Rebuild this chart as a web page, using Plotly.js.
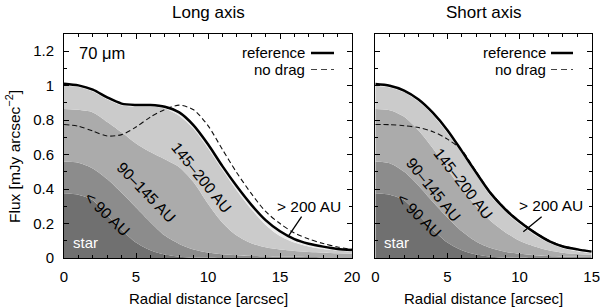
<!DOCTYPE html>
<html>
<head>
<meta charset="utf-8">
<script src="https://cdn.plot.ly/plotly-3.0.1.min.js"></script>
<style>html,body{margin:0;padding:0;background:#fff}#plot{width:600px;height:308px}</style>
</head>
<body>
<div id="plot"></div>
<script>
// ---------- Long axis (cumulative band tops, mJy arcsec^-2) ----------
var xLong = [0,1,2,3,4,5,6,7,8,9,10,11,12,13,14,15,16,17,18,19,20];
var starLong   = [0.376,0.367,0.335,0.25,0.163,0.09,0.045,0.02,0.008,0.003,0.001,0,0,0,0,0,0,0,0,0,0];
var lt90Long   = [0.56,0.553,0.52,0.458,0.378,0.293,0.208,0.13,0.082,0.05,0.032,0.022,0.016,0.012,0.01,0.008,0.007,0.006,0.005,0.005,0.004];
var b145Long   = [0.865,0.86,0.845,0.79,0.73,0.665,0.615,0.573,0.527,0.44,0.315,0.205,0.13,0.085,0.062,0.049,0.041,0.035,0.031,0.028,0.025];
var b200Long   = [1.0,0.993,0.967,0.922,0.887,0.879,0.879,0.868,0.826,0.75,0.637,0.512,0.392,0.284,0.192,0.128,0.09,0.067,0.052,0.043,0.037];
var refLong    = [1.012,1.002,0.977,0.932,0.896,0.888,0.888,0.878,0.845,0.77,0.66,0.533,0.416,0.31,0.22,0.155,0.11,0.083,0.066,0.053,0.047];
var noDragLong = [0.775,0.765,0.737,0.708,0.716,0.76,0.818,0.862,0.887,0.86,0.768,0.63,0.495,0.375,0.27,0.2,0.145,0.11,0.084,0.064,0.05];

// ---------- Short axis ----------
var xShort = [0,1,2,3,4,5,6,7,8,9,10,11,12,13,14,15];
var starShort   = [0.376,0.367,0.335,0.25,0.163,0.09,0.045,0.02,0.008,0.003,0.001,0,0,0,0,0];
var lt90Short   = [0.56,0.55,0.5,0.42,0.325,0.235,0.155,0.095,0.058,0.036,0.024,0.016,0.012,0.009,0.007,0.006];
var b145Short   = [0.865,0.858,0.82,0.74,0.635,0.515,0.4,0.3,0.215,0.15,0.1,0.068,0.045,0.031,0.023,0.018];
var b200Short   = [1.0,0.99,0.962,0.908,0.828,0.725,0.607,0.482,0.36,0.27,0.197,0.137,0.09,0.057,0.039,0.027];
var refShort    = [1.01,1.0,0.972,0.92,0.842,0.742,0.62,0.495,0.375,0.283,0.21,0.15,0.1,0.067,0.05,0.037];
var noDragShort = [0.775,0.774,0.768,0.757,0.733,0.69,0.625,0.5,0.38,0.288,0.214,0.154,0.104,0.07,0.052,0.039];

var bandColors = ['#707070','#8c8c8c','#ababab','#cbcbcb','#ececec'];
var FONT = 'Liberation Sans, Arial, Helvetica, sans-serif';

function panel(xs, bands, ref, nodrag, xa, ya) {
  var tr = [];
  bands.forEach(function (b, i) {
    tr.push({x: xs, y: b, xaxis: xa, yaxis: ya, type: 'scatter', mode: 'lines',
      line: {width: 0, shape: 'spline', smoothing: 0.8}, fill: i === 0 ? 'tozeroy' : 'tonexty',
      fillcolor: bandColors[i], hoverinfo: 'skip', showlegend: false});
  });
  tr.push({x: xs, y: ref, xaxis: xa, yaxis: ya, type: 'scatter', mode: 'lines', fill: 'tonexty',
    fillcolor: bandColors[4], line: {width: 0, shape: 'spline', smoothing: 0.8}, showlegend: false});
  tr.push({x: xs, y: nodrag, xaxis: xa, yaxis: ya, type: 'scatter', mode: 'lines',
    line: {color: '#111', width: 1.1, dash: '5px,3px', shape: 'spline', smoothing: 0.8}, showlegend: false});
  tr.push({x: xs, y: ref, xaxis: xa, yaxis: ya, type: 'scatter', mode: 'lines',
    line: {color: '#000', width: 2.5, shape: 'spline', smoothing: 0.8}, showlegend: false});
  return tr;
}

var data = panel(xLong, [starLong, lt90Long, b145Long, b200Long], refLong, noDragLong, 'x', 'y')
  .concat(panel(xShort, [starShort, lt90Short, b145Short, b200Short], refShort, noDragShort, 'x2', 'y2'));

function xaxisCfg(dom, rng, anchor) {
  return {domain: dom, range: rng, anchor: anchor, dtick: 5, tick0: 0, ticks: 'inside', ticklen: 5,
    tickcolor: '#000', minor: {dtick: 1, ticklen: 3, ticks: 'inside', tickcolor: '#000'},
    mirror: 'ticks', showline: true, linecolor: '#000', linewidth: 1, showgrid: false, zeroline: false,
    tickfont: {family: FONT, size: 15, color: '#000'}, ticklabelstandoff: 5, ticklabeloverflow: 'allow',
    automargin: false, layer: 'above traces'};
}
function yaxisCfg(dom, anchor, labels) {
  return {domain: dom, range: [0, 1.3], anchor: anchor, dtick: 0.2, tick0: 0, ticks: 'inside', ticklen: 5,
    tickcolor: '#000', minor: {dtick: 0.1, ticklen: 3, ticks: 'inside', tickcolor: '#000'},
    mirror: 'ticks', showline: true, linecolor: '#000', linewidth: 1, showgrid: false, zeroline: false,
    showticklabels: labels, tickfont: {family: FONT, size: 15, color: '#000'}, ticklabelstandoff: 6,
    ticklabeloverflow: 'allow', automargin: false, layer: 'above traces'};
}

var yDom = [0.1623, 0.8896];
function txt(t, x, y, xref, yref, size, opts) {
  var a = {text: t, x: x, y: y, xref: xref, yref: yref, showarrow: false,
    font: {family: FONT, size: size, color: '#000'}, xanchor: 'center', yanchor: 'middle'};
  for (var k in (opts || {})) a[k] = opts[k];
  return a;
}

var annotations = [
  txt('Long axis', 0.5, 0.959, 'x domain', 'paper', 17),
  txt('Short axis', 0.5, 0.959, 'x2 domain', 'paper', 17),
  txt('Radial distance [arcsec]', 0.5, 0.031, 'x domain', 'paper', 15),
  txt('Radial distance [arcsec]', 0.5, 0.031, 'x2 domain', 'paper', 15),
  txt('Flux [mJy arcsec<sup>−2</sup>]', 0.0225, 0.492, 'paper', 'paper', 15.5, {textangle: -90}),
  txt('70 μm', 0.045, 0.915, 'x domain', 'y domain', 16.5, {xanchor: 'left'}),
  txt('reference', 307/600, 1-53/308, 'paper', 'paper', 15, {xanchor: 'right'}),
  txt('no drag', 307/600, 1-69/308, 'paper', 'paper', 15, {xanchor: 'right'}),
  txt('reference', 547.5/600, 1-53/308, 'paper', 'paper', 15, {xanchor: 'right'}),
  txt('no drag', 547.5/600, 1-69/308, 'paper', 'paper', 15, {xanchor: 'right'}),
  // band labels, long axis
  txt('145–200 AU', 9.55, 0.468, 'x', 'y', 15.5, {textangle: 51}),
  txt('90–145 AU', 5.73, 0.381, 'x', 'y', 15.5, {textangle: 46}),
  txt('&lt; 90 AU', 3.02, 0.25, 'x', 'y', 15.5, {textangle: 44}),
  txt('star', 1.49, 0.09, 'x', 'y', 15, {font: {family: FONT, size: 15, color: '#fff'}}),
  txt('&gt; 200 AU', 16.98, 0.30, 'x', 'y', 15.5),
  // band labels, short axis
  txt('145–200 AU', 6.1, 0.434, 'x2', 'y2', 15.5, {textangle: 52}),
  txt('90–145 AU', 4.02, 0.396, 'x2', 'y2', 15.5, {textangle: 51}),
  txt('&lt; 90 AU', 3.03, 0.244, 'x2', 'y2', 15.5, {textangle: 45}),
  txt('star', 1.48, 0.09, 'x2', 'y2', 15, {font: {family: FONT, size: 15, color: '#fff'}}),
  txt('&gt; 200 AU', 12.16, 0.304, 'x2', 'y2', 15.5)
];

var shapes = [
  {type: 'line', xref: 'paper', yref: 'paper', x0: 311/600, x1: 334/600, y0: 1-53/308, y1: 1-53/308, line: {color: '#000', width: 2.5}},
  {type: 'line', xref: 'paper', yref: 'paper', x0: 311/600, x1: 334/600, y0: 1-69.5/308, y1: 1-69.5/308, line: {color: '#444', width: 1.2, dash: '6px,4px'}},
  {type: 'line', xref: 'paper', yref: 'paper', x0: 551/600, x1: 573/600, y0: 1-53/308, y1: 1-53/308, line: {color: '#000', width: 2.5}},
  {type: 'line', xref: 'paper', yref: 'paper', x0: 551/600, x1: 573/600, y0: 1-69.5/308, y1: 1-69.5/308, line: {color: '#444', width: 1.2, dash: '6px,4px'}},
  {type: 'line', xref: 'x', yref: 'y', x0: 16.5, y0: 0.24, x1: 15.55, y1: 0.123, line: {color: '#000', width: 1.3}},
  {type: 'line', xref: 'x2', yref: 'y2', x0: 11.53, y0: 0.24, x1: 10.26, y1: 0.153, line: {color: '#000', width: 1.3}}
];

var layout = {
  width: 600, height: 308, margin: {l: 0, r: 0, t: 0, b: 0},
  paper_bgcolor: '#fff', plot_bgcolor: '#fff', showlegend: false,
  font: {family: FONT, size: 14, color: '#000'},
  xaxis: xaxisCfg([64/600, 352/600], [0, 20], 'y'),
  yaxis: yaxisCfg(yDom, 'x', true),
  xaxis2: xaxisCfg([375.3/600, 591.7/600], [0, 15], 'y2'),
  yaxis2: yaxisCfg(yDom, 'x2', false),
  annotations: annotations, shapes: shapes
};

Plotly.newPlot('plot', data, layout, {staticPlot: true, displayModeBar: false});
</script>
</body>
</html>
